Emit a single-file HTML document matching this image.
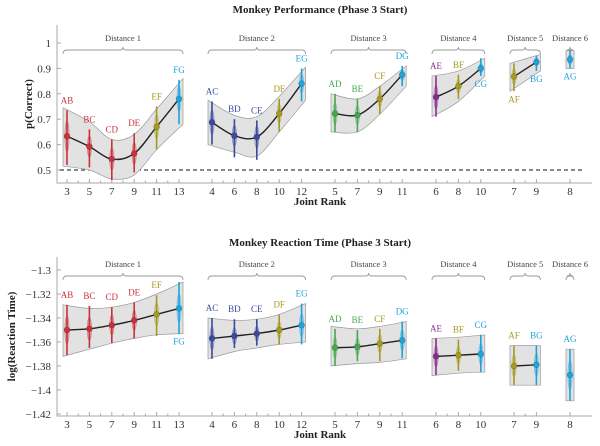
<!DOCTYPE html>
<html><head><meta charset="utf-8">
<style>
html,body{margin:0;padding:0;background:#fff;}
svg{display:block;font-family:"Liberation Serif",serif;}
</style></head>
<body>
<svg id="c" width="600" height="446" viewBox="0 0 600 446" xmlns="http://www.w3.org/2000/svg"></svg>
<script>
// shared categories
const groupNames=["Distance 1","Distance 2","Distance 3","Distance 4","Distance 5","Distance 6"];
const groupOf=[0,0,0,0,0,0,1,1,1,1,1,2,2,2,2,3,3,3,4,4,5];
const ranks=[3,5,7,9,11,13,4,6,8,10,12,5,7,9,11,6,8,10,7,9,8];
const pairs=["AB","BC","CD","DE","EF","FG","AC","BD","CE","DF","EG","AD","BE","CF","DG","AE","BF","CG","AF","BG","AG"];
const colors=["#c8333b","#c8333b","#c8333b","#c8333b","#a39a1e","#1fa3dc","#3b4a9e","#3b4a9e","#3b4a9e","#a39a1e","#1fa3dc","#45a84e","#45a84e","#a39a1e","#1fa3dc","#8a2c8e","#a39a1e","#1fa3dc","#a39a1e","#1fa3dc","#1fa3dc"];
// performance chart
const pMean=[0.633,0.592,0.543,0.565,0.670,0.780,0.688,0.635,0.630,0.722,0.840,0.722,0.716,0.780,0.875,0.787,0.830,0.900,0.868,0.925,0.935];
const pLo=[0.52,0.51,0.46,0.49,0.58,0.68,0.60,0.55,0.54,0.65,0.77,0.65,0.65,0.72,0.83,0.71,0.78,0.87,0.81,0.89,0.90];
const pHi=[0.735,0.66,0.62,0.645,0.75,0.855,0.77,0.70,0.695,0.78,0.90,0.80,0.78,0.83,0.91,0.87,0.875,0.94,0.92,0.95,0.97];
const pBandLo=[0.515,0.50,0.465,0.48,0.58,0.68,0.60,0.57,0.555,0.65,0.775,0.65,0.65,0.72,0.83,0.71,0.77,0.87,0.81,0.89,0.90];
const pBandHi=[0.745,0.69,0.62,0.64,0.74,0.86,0.775,0.715,0.71,0.79,0.905,0.80,0.78,0.83,0.91,0.87,0.89,0.94,0.92,0.955,0.97];
const pLabelBelow=[0,0,0,0,0,0,0,0,0,0,0,0,0,0,0,0,0,1,1,1,1];
const pTicks=[0.5,0.6,0.7,0.8,0.9,1];
const pTickLabels=["0.5","0.6","0.7","0.8","0.9","1"];
// reaction time chart
const rMean=[-1.350,-1.349,-1.346,-1.342,-1.337,-1.332,-1.357,-1.355,-1.353,-1.350,-1.346,-1.3648,-1.364,-1.3614,-1.3586,-1.372,-1.371,-1.370,-1.380,-1.379,-1.3875];
const rLo=[-1.371,-1.365,-1.361,-1.357,-1.355,-1.353,-1.374,-1.365,-1.363,-1.362,-1.362,-1.380,-1.376,-1.376,-1.3736,-1.3875,-1.384,-1.385,-1.396,-1.396,-1.409];
const rHi=[-1.329,-1.330,-1.331,-1.327,-1.321,-1.310,-1.340,-1.341,-1.341,-1.337,-1.328,-1.349,-1.350,-1.349,-1.343,-1.357,-1.358,-1.354,-1.363,-1.363,-1.366];
const rBandLo=[-1.372,-1.366,-1.361,-1.357,-1.354,-1.353,-1.374,-1.368,-1.365,-1.362,-1.360,-1.380,-1.378,-1.377,-1.374,-1.388,-1.386,-1.385,-1.396,-1.396,-1.409];
const rBandHi=[-1.329,-1.332,-1.331,-1.327,-1.320,-1.310,-1.340,-1.342,-1.341,-1.337,-1.328,-1.347,-1.349,-1.347,-1.343,-1.357,-1.356,-1.354,-1.363,-1.363,-1.366];
const rLabelBelow=[0,0,0,0,0,1,0,0,0,0,0,0,0,0,0,0,0,0,0,0,0];
const rTicks=[-1.42,-1.4,-1.38,-1.36,-1.34,-1.32,-1.3];
const rTickLabels=["\u22121.42","\u22121.4","\u22121.38","\u22121.36","\u22121.34","\u22121.32","\u22121.3"];

const NS="http://www.w3.org/2000/svg";
const svg=document.getElementById('c');
const groupX0=[67,212,335,436,514,570];
const groupR0=[3,4,5,6,7,8];
const groupR1=[13,12,11,10,9,8];
const PER=11.2;
function xPos(i){const g=groupOf[i];return groupX0[g]+(ranks[i]-groupR0[g])*PER;}
function gx(g,r){return groupX0[g]+(r-groupR0[g])*PER;}
function mk(tag,attrs,parent){const e=document.createElementNS(NS,tag);for(const k in attrs)e.setAttribute(k,attrs[k]);(parent||svg).appendChild(e);return e;}
function smooth(pts){
  if(pts.length===1)return "";
  let d="M"+pts[0][0]+","+pts[0][1];
  for(let i=0;i<pts.length-1;i++){
    const p0=pts[Math.max(0,i-1)],p1=pts[i],p2=pts[i+1],p3=pts[Math.min(pts.length-1,i+2)];
    const c1=[p1[0]+(p2[0]-p0[0])/6,p1[1]+(p2[1]-p0[1])/6];
    const c2=[p2[0]-(p3[0]-p1[0])/6,p2[1]-(p3[1]-p1[1])/6];
    d+=" C"+c1[0]+","+c1[1]+" "+c2[0]+","+c2[1]+" "+p2[0]+","+p2[1];
  }
  return d;
}

function chart(o){
  const y=v=>o.y0+(v-o.v0)*o.k;
  const root=mk('g',{});
  
  
  const t=mk('text',{x:320,y:o.titleY,'text-anchor':'middle','font-size':11,'font-weight':'bold',fill:'#222'},root);
  t.textContent=o.title;
  
  
  const ax=mk('path',{d:"M57,"+o.axTop+" V"+o.axBot+" H592",stroke:'#aaa','stroke-width':1,fill:'none'},root);
  
  
  o.ticks.forEach((v,i)=>{
    mk('line',{x1:57,x2:61,y1:y(v),y2:y(v),stroke:'#aaa'},root);
    const tl=mk('text',{x:51,y:y(v)+4,'text-anchor':'end','font-size':11,fill:'#333'},root);
    tl.textContent=o.tickLabels[i];
    
    
  });
  const yl=mk('text',{transform:"translate("+o.ylX+","+((o.axTop+o.axBot)/2)+") rotate(-90)",'text-anchor':'middle','font-size':11,'font-weight':'bold',fill:'#222'},root);
  yl.textContent=o.ylabel;
  
  
  const xl=mk('text',{x:320,y:o.axBot+22,'text-anchor':'middle','font-size':11,'font-weight':'bold',fill:'#222'},root);
  xl.textContent="Joint Rank";
  
  
  for(let g=0;g<6;g++){
    for(let r=groupR0[g];r<=groupR1[g];r++){
      const major=(r-groupR0[g])%2===0;
      mk('line',{x1:gx(g,r),x2:gx(g,r),y1:o.axBot,y2:o.axBot-(major?4:2.5),stroke:'#aaa'},root);
      if(major){
        const tx=mk('text',{x:gx(g,r),y:o.axBot+12,'text-anchor':'middle','font-size':11,fill:'#333'},root);
        tx.textContent=r;
        
        
      }
    }
    const xa=gx(g,groupR0[g])-4,xb=gx(g,groupR1[g])+4,xm=(xa+xb)/2,by=o.braceY;
    const br=mk('path',{d:"M"+xa+","+(by+4)+" Q"+xa+","+by+" "+(xa+4)+","+by+" L"+(xm-3)+","+by+" Q"+xm+","+by+" "+xm+","+(by-3)+" Q"+xm+","+by+" "+(xm+3)+","+by+" L"+(xb-4)+","+by+" Q"+xb+","+by+" "+xb+","+(by+4),stroke:'#999',fill:'none','stroke-width':0.9},root);
    
    
    const gt=mk('text',{x:xm,y:by-9,'text-anchor':'middle','font-size':8.5,fill:'#444'},root);
    gt.textContent=groupNames[g];
    
    
  }
  if(o.ref!==undefined){
    const rl=mk('line',{x1:60,x2:582,y1:y(o.ref),y2:y(o.ref),stroke:'#111','stroke-dasharray':'4,3','stroke-width':1},root);
    
    
  }
  for(let g=0;g<6;g++){
    const idx=[];for(let i=0;i<pairs.length;i++)if(groupOf[i]===g)idx.push(i);
    const up=idx.map(i=>[xPos(i),y(o.bandHi[i])]);
    const lo=idx.map(i=>[xPos(i),y(o.bandLo[i])]).reverse();
    let d;
    if(idx.length===1){const x=up[0][0];d="M"+(x-4)+","+up[0][1]+" H"+(x+4)+" V"+lo[0][1]+" H"+(x-4)+"Z";}
    else{
      const u=up.map(p=>[p[0],p[1]]);u[0][0]-=4;u[u.length-1][0]+=4;
      const l=lo.map(p=>[p[0],p[1]]);l[0][0]+=4;l[l.length-1][0]-=4;
      d=smooth(u)+" L"+l[0][0]+","+l[0][1]+smooth(l).replace(/^M[^ ]+/,"")+"Z";
    }
    const band=mk('path',{d:d,fill:'#e2e2e2',stroke:'#9a9a9a','stroke-width':0.7},root);
    
    
    if(idx.length>1){
      const ln=mk('path',{d:smooth(idx.map(i=>[xPos(i),y(o.mean[i])])),stroke:'#222',fill:'none','stroke-width':1.4},root);
      
      
    }
    idx.forEach(i=>{
      const x=xPos(i),c=colors[i];
      const gg=mk('g',{},root);
      
      
      mk('line',{x1:x,x2:x,y1:y(o.lo[i]),y2:y(o.hi[i]),stroke:c,'stroke-width':1.6},gg);
      const h=Math.abs(y(o.hi[i])-y(o.lo[i]));
      mk('ellipse',{cx:x,cy:y(o.mean[i]),rx:2.2,ry:h*0.28,fill:c,'fill-opacity':0.3,stroke:c,'stroke-opacity':0.5,'stroke-width':0.6},gg);
      mk('circle',{cx:x,cy:y(o.mean[i]),r:3,fill:c,stroke:'#000','stroke-opacity':0.3,'stroke-width':0.5},gg);
      const below=o.below[i];
      const ly=below?y(o.lo[i])+11:y(o.hi[i])-7;
      const lt=mk('text',{x:x,y:ly,'text-anchor':'middle','font-size':9,fill:c},gg);
      lt.textContent=pairs[i];
    });
  }
}
chart({name:'performance-chart',title:'Monkey Performance (Phase 3 Start)',titleY:13,ylabel:'p(Correct)',ylX:32,
  v0:1,y0:43,k:-254,axTop:25,axBot:183,braceY:50,ticks:pTicks,tickLabels:pTickLabels,ref:0.5,
  mean:pMean,lo:pLo,hi:pHi,bandLo:pBandLo,bandHi:pBandHi,below:pLabelBelow});
chart({name:'reaction-time-chart',title:'Monkey Reaction Time (Phase 3 Start)',titleY:246,ylabel:'log(Reaction Time)',ylX:15,
  v0:-1.3,y0:270,k:-1200,axTop:257,axBot:416,braceY:276,ticks:rTicks,tickLabels:rTickLabels,
  mean:rMean,lo:rLo,hi:rHi,bandLo:rBandLo,bandHi:rBandHi,below:rLabelBelow});
</script>
</body></html>
